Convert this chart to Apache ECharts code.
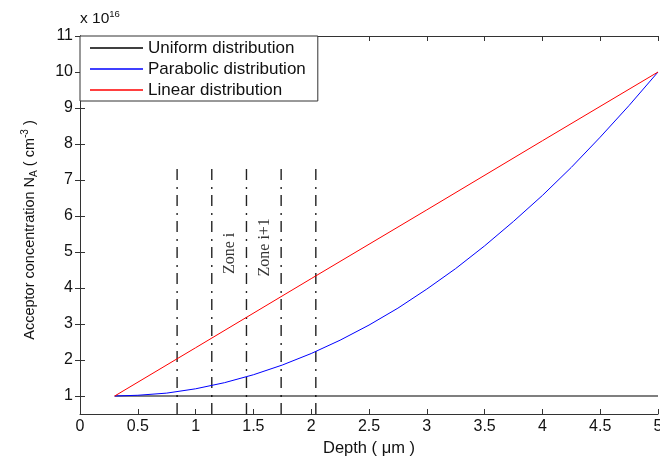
<!DOCTYPE html>
<html>
<head>
<meta charset="utf-8">
<script src="https://cdn.jsdelivr.net/npm/echarts@6/dist/echarts.min.js"></script>
<style>html,body{margin:0;padding:0;background:#fff}#c{width:660px;height:456px}</style>
</head>
<body>
<div id="c"></div>
<script>
// Data (concentration in units of 1e16 cm^-3)
const uniformX = [0.3, 5.0];
const uniformY = [1.0, 1.0];
const parabolicX = [0.3, 0.5, 0.75, 1.0, 1.25, 1.5, 1.75, 2.0, 2.25, 2.5, 2.75, 3.0, 3.25, 3.5, 3.75, 4.0, 4.25, 4.5, 4.75, 5.0];
const parabolicY = [1.0, 1.02, 1.08, 1.2, 1.37, 1.59, 1.86, 2.18, 2.55, 2.97, 3.44, 3.97, 4.54, 5.17, 5.85, 6.57, 7.35, 8.19, 9.07, 10.0];
const linearX = [0.3, 1.0, 2.0, 3.0, 4.0, 5.0];
const linearY = [1.0, 2.34, 4.26, 6.17, 8.09, 10.0];
const zoneBoundaries = [0.84, 1.14, 1.44, 1.74, 2.04];
const zoneTop = 7.35;
const zoneLabels = ['Zone i', 'Zone i+1'];
const zoneLabelX = [1.3, 1.6];
const zoneLabelY = [4.96, 5.13];
const yTicks = [1, 2, 3, 4, 5, 6, 7, 8, 9, 10, 11];
const seriesNames = ['Uniform distribution', 'Parabolic distribution', 'Linear distribution'];

const zip = (xs, ys) => xs.map((x, i) => [x, ys[i]]);
const font = 'Arial, "Liberation Sans", sans-serif';
const axisColor = '#333';
const textColor = '#111';

const series = [
  {name: seriesNames[0], type: 'line', data: zip(uniformX, uniformY), showSymbol: false, lineStyle: {color: '#000', width: 1.2}, itemStyle: {color: '#000'}, animation: false},
  {name: seriesNames[1], type: 'line', data: zip(parabolicX, parabolicY), showSymbol: false, lineStyle: {color: '#0000ff', width: 1}, itemStyle: {color: '#0000ff'}, animation: false},
  {name: seriesNames[2], type: 'line', data: zip(linearX, linearY), showSymbol: false, lineStyle: {color: '#ff0000', width: 1}, itemStyle: {color: '#ff0000'}, animation: false}
];
zoneBoundaries.forEach((x, i) => {
  series.push({
    name: 'zone' + i, type: 'line', data: [[x, 0.5], [x, zoneTop]], showSymbol: false, silent: true,
    lineStyle: {color: '#222', width: 1.4, type: [11, 6, 2, 7]}, animation: false, z: 1
  });
});
series.push({
  name: 'zoneText', type: 'scatter', symbolSize: 0, silent: true, animation: false,
  data: zoneLabels.map((t, i) => ({value: [zoneLabelX[i], zoneLabelY[i]], name: t})),
  label: {show: true, position: 'inside', rotate: 90, formatter: p => p.name,
    fontFamily: '"Liberation Serif", "DejaVu Serif", serif', fontSize: 16, color: '#000'}
});

const chart = echarts.init(document.getElementById('c'), null, {renderer: 'canvas'});
chart.setOption({
  backgroundColor: '#fff',
  animation: false,
  grid: {left: 80, right: 2, top: 36, bottom: 42, outerBoundsMode: 'none', containLabel: false},
  legend: {
    data: seriesNames, orient: 'vertical', left: 80, top: 36,
    padding: [3, 12, 2, 10], itemGap: 3, itemWidth: 53, itemHeight: 1.3,
    icon: 'rect', borderColor: '#333', borderWidth: 1, backgroundColor: '#fff',
    textStyle: {fontFamily: font, fontSize: 17, color: textColor, lineHeight: 18, padding: [0, 0, 0, 0]}
  },
  xAxis: [
    {type: 'value', min: 0, max: 5, interval: 0.5, position: 'bottom',
     name: 'Depth ( μm )', nameLocation: 'middle', nameGap: 19,
     nameTextStyle: {fontFamily: font, fontSize: 16.5, color: textColor},
     axisLine: {show: true, lineStyle: {color: axisColor, width: 1}},
     axisTick: {show: true, inside: true, length: 5, lineStyle: {color: axisColor}},
     axisLabel: {fontFamily: font, fontSize: 16, color: textColor, margin: 5, showMaxLabel: true, hideOverlap: false, formatter: v => String(v)},
     splitLine: {show: false}},
    {type: 'value', min: 0, max: 5, interval: 0.5, position: 'top',
     axisLine: {show: true, lineStyle: {color: axisColor, width: 1}},
     axisTick: {show: true, inside: true, length: 5, lineStyle: {color: axisColor}},
     axisLabel: {show: false}, splitLine: {show: false}}
  ],
  yAxis: [
    {type: 'value', min: 0.5, max: 11, interval: 0.5, position: 'left',
     axisLine: {show: true, lineStyle: {color: axisColor, width: 1}},
     axisTick: {show: true, inside: true, length: 5, lineStyle: {color: axisColor}, customValues: yTicks},
     axisLabel: {fontFamily: font, fontSize: 16, color: textColor, margin: 7, customValues: yTicks},
     splitLine: {show: false}},
    {type: 'value', min: 0.5, max: 11, interval: 0.5, position: 'right',
     axisLine: {show: true, lineStyle: {color: axisColor, width: 1}},
     axisTick: {show: true, inside: true, length: 5, lineStyle: {color: axisColor}, customValues: yTicks},
     axisLabel: {show: false}, splitLine: {show: false}}
  ],
  graphic: [{
    type: 'text', left: 80, top: 9,
    style: {text: 'x 10{s|16}', fontFamily: font, fontSize: 15.5, fill: textColor,
      rich: {s: {fontFamily: font, fontSize: 9.5, fill: textColor, verticalAlign: 'top', padding: [0, 0, 9, 0]}}}
  }, {
    type: 'text', x: 30, y: 230, rotation: Math.PI / 2,
    style: {text: 'Acceptor concentration N{sub|A} ( cm{sup|-3} )', fontFamily: font, fontSize: 14.5, fill: textColor,
      align: 'center', verticalAlign: 'middle',
      rich: {sub: {fontFamily: font, fontSize: 10, fill: textColor, padding: [9, 0, 0, 0]},
             sup: {fontFamily: font, fontSize: 10, fill: textColor, padding: [0, 0, 9, 0]}}}
  }],
  series: series
});
</script>
</body>
</html>
